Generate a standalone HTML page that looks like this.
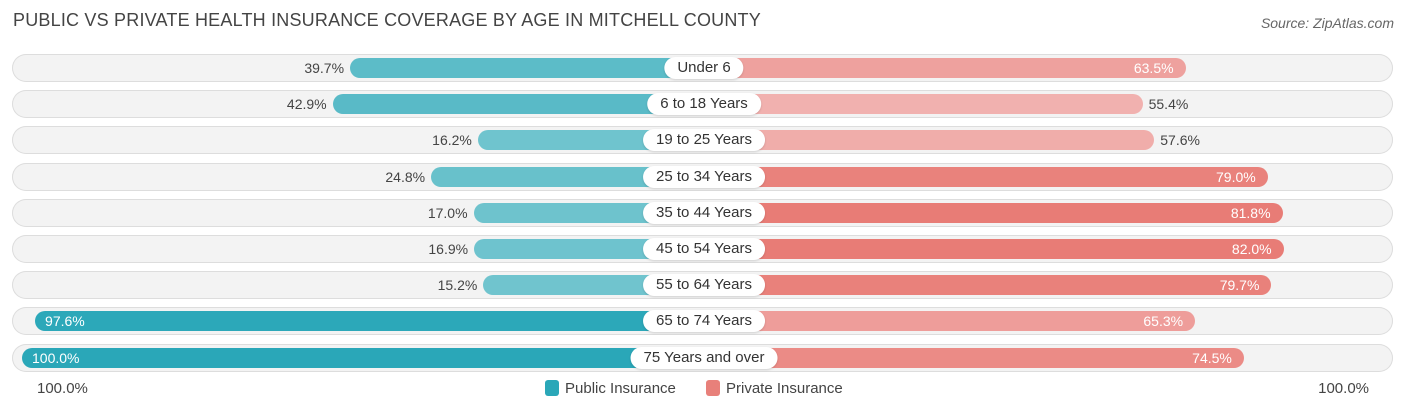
<!DOCTYPE html>
<html><head><meta charset="utf-8"><style>
body{margin:0;background:#fff;font-family:"Liberation Sans",sans-serif;}
#c{position:relative;width:1406px;height:414px;overflow:hidden;}
.t{position:absolute;left:13px;top:10px;font-size:18px;color:#444;letter-spacing:0.2px}
.src{position:absolute;right:12px;top:15px;font-size:14px;color:#666;font-style:italic}
.row{position:absolute;left:12px;width:1381px;height:28px;border-radius:14px;background:#f3f3f3;box-shadow:inset 0 0 0 1px #ddd;}
.bar{position:absolute;height:20px;border-radius:10px;}
.lbl{position:absolute;height:22px;line-height:22px;padding:0 13px;background:#fff;border-radius:11px;font-size:15px;color:#333;transform:translateX(-50%);box-shadow:0 1px 2px rgba(0,0,0,.15);white-space:nowrap}
.v{position:absolute;font-size:14px;line-height:20px;color:#444}
.leg{position:absolute;top:380px;font-size:15px;color:#444}
.sw{display:inline-block;width:14px;height:16px;border-radius:3px;vertical-align:-3px;margin-right:6px}
</style></head><body>
<div id="c">
<div class="t">PUBLIC VS PRIVATE HEALTH INSURANCE COVERAGE BY AGE IN MITCHELL COUNTY</div>
<div class="src">Source: ZipAtlas.com</div>
<div class="leg" style="left:37px">100.0%</div>
<div class="leg" style="right:37px">100.0%</div>
<div class="leg" style="left:545px"><span class="sw" style="background:#2aa7b8"></span>Public Insurance</div>
<div class="leg" style="left:706px"><span class="sw" style="background:#e8807a"></span>Private Insurance</div>
</div>
<script>
const categories=["Under 6","6 to 18 Years","19 to 25 Years","25 to 34 Years","35 to 44 Years","45 to 54 Years","55 to 64 Years","65 to 74 Years","75 Years and over"];
const publicVals=[39.7,42.9,16.2,24.8,17.0,16.9,15.2,97.6,100.0];
const privateVals=[63.5,55.4,57.6,79.0,81.8,82.0,79.7,65.3,74.5];
const C=704,offL=138,offR=145,sL=5.44,sR=5.3,top0=68,step=36.2;
function mix(a,b,t){return 'rgb('+a.map((x,i)=>Math.round(x+(b[i]-x)*t)).join(',')+')';}
const c=document.getElementById('c');
categories.forEach((cat,i)=>{
  const y=top0+i*step;
  const row=document.createElement('div');row.className='row';row.style.top=(y-14)+'px';
  
  
  c.appendChild(row);
  const pv=publicVals[i],rv=privateVals[i];
  const x0=C-offL-pv*sL;
  const pb=document.createElement('div');pb.className='bar';
  pb.style.left=x0+'px';pb.style.width=(C-x0)+'px';pb.style.top=(y-10)+'px';
  pb.style.background=mix([112,196,206],[42,167,184],Math.max(0,Math.min(1,(pv-15)/85)));
  
  
  c.appendChild(pb);
  const x1=C+offR+rv*sR;
  const rb=document.createElement('div');rb.className='bar';
  rb.style.left=C+'px';rb.style.width=(x1-C)+'px';rb.style.top=(y-10)+'px';
  rb.style.background=mix([241,178,176],[232,124,118],Math.max(0,Math.min(1,(rv-55)/27)));
  
  
  c.appendChild(rb);
  const pl=document.createElement('div');pl.className='v';pl.style.top=(y-10)+'px';
  pl.textContent=pv.toFixed(1)+'%';
  if(pv>60){pl.style.left=(x0+10)+'px';pl.style.color='#fff';}
  else{pl.style.right=(1406-x0+6)+'px';}
  
  
  c.appendChild(pl);
  const rl=document.createElement('div');rl.className='v';rl.style.top=(y-10)+'px';
  rl.textContent=rv.toFixed(1)+'%';
  if(rv>60){rl.style.right=(1406-x1+12)+'px';rl.style.color='#fff';}
  else{rl.style.left=(x1+6)+'px';}
  
  
  c.appendChild(rl);
  const l=document.createElement('div');l.className='lbl';l.style.left=C+'px';l.style.top=(y-11)+'px';
  l.textContent=cat;
  
  
  c.appendChild(l);
});
</script>
</body></html>
